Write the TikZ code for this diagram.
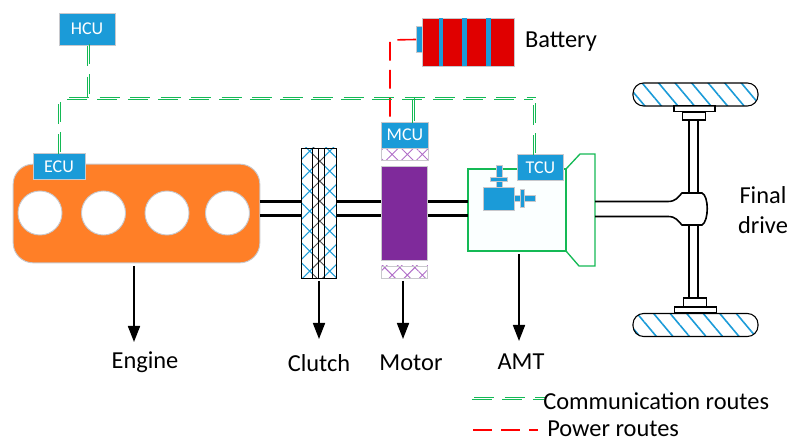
\documentclass[tikz,border=0pt]{standalone}
\usepackage{fontspec}
\setmainfont{Carlito}
\usetikzlibrary{arrows.meta,patterns.meta}
\definecolor{unitblue}{RGB}{27,155,216}
\definecolor{rimgray}{RGB}{200,200,204}
\definecolor{engorange}{RGB}{255,127,39}
\definecolor{motorpurple}{RGB}{127,42,155}
\definecolor{hatchpurple}{RGB}{176,110,200}
\definecolor{cellred}{RGB}{224,0,0}
\definecolor{routegreen}{RGB}{20,185,85}
\definecolor{amtpale}{RGB}{251,255,255}
\tikzset{
  unitbox/.style={draw=rimgray,fill=unitblue,line width=0.7pt,inner sep=0pt,outer sep=0pt,text=white,font=\fontsize{13.5}{14}\selectfont},
  partbox/.style={draw=rimgray,line width=0.7pt,inner sep=0pt,outer sep=0pt},
  cylbox/.style={partbox,fill=white,circle,minimum size=33pt},
  stripebox/.style={inner sep=0pt,outer sep=0pt,fill=unitblue,minimum width=3.5pt,minimum height=35.5pt},
  bearingbox/.style={partbox,minimum width=35pt,minimum height=9pt,pattern={Hatch[angle=45,distance=8pt,line width=0.7pt]},pattern color=hatchpurple},
  hubbox/.style={draw=black,line width=0.8pt,inner sep=0pt,outer sep=0pt},
  wheelbox/.style={hubbox,rounded corners=8pt,minimum width=93.75pt,minimum height=17.25pt,pattern={Lines[angle=-50,distance=9.5pt,line width=1.2pt]},pattern color=unitblue},
  clutchbox/.style={draw=black,line width=0.7pt,inner sep=0pt,outer sep=0pt,minimum height=97.5pt},
  comline/.style={draw=routegreen,line width=1pt,dash pattern=on 15pt off 7.875pt},
  comlinea/.style={comline,transform canvas={shift={(0.8pt,0.8pt)}}},
  comlineb/.style={comline,transform canvas={shift={(-0.8pt,-0.8pt)}}},
  powroute/.style={draw=red,line width=1.2pt,dash pattern=on 14pt off 7pt},
  shaft/.style={draw=black,line width=1.8pt},
  axle/.style={draw=black,line width=1.2pt},
  labelarrow/.style={draw=black,line width=1.3pt,-{Triangle[length=12pt,width=9pt]}},
  caption/.style={inner sep=0pt,font=\fontsize{18.3}{19}\selectfont}
}
\begin{document}
\begin{tikzpicture}[x=0.75pt,y=0.75pt,yscale=-1,xscale=1]
    \useasboundingbox (0,0) rectangle (789,441);
    \coordinate (shafttop) at (0,201.5);
    \coordinate (shaftlow) at (0,215.5);

    %Engine
    \node [partbox,fill=engorange,rounded corners=15pt,minimum width=185pt,minimum height=74pt] (engine) at (136.5,213.5) {};
    \node [cylbox] (cyla) at (40,213) {};
    \node [cylbox] (cylb) at (103.5,213) {};
    \node [cylbox] (cylc) at (167,213) {};
    \node [cylbox] (cyld) at (227.5,213) {};

    %Clutch
    \node [clutchbox,minimum width=26.25pt,pattern={Hatch[angle=45,distance=10.6pt,line width=0.8pt]},pattern color=unitblue] (clutch) at (318.5,213) {};
    \node [clutchbox,minimum width=8.5pt,fill=white] (plateback) at (318.5,213) {};
    \node [clutchbox,minimum width=8.5pt,pattern={Hatch[angle=45,distance=10.6pt,line width=0.7pt]},pattern color=black!70] (plate) at (318.5,213) {};
    \draw [draw=black,line width=0.7pt] (plate.north) -- (plate.south) ;

    %Motor
    \node [partbox,fill=motorpurple,minimum width=35pt,minimum height=70pt] (motor) at (404.5,213.5) {};
    \node [bearingbox] (bearingtop) at (405,154) {};
    \node [bearingbox] (bearingbot) at (404.5,272) {};

    %AMT
    \draw [routegreen,line width=1pt] (566,169) -- (580,154) -- (595,154) -- (595,266) -- (579,266) -- (566,251) ;
    \node [draw=routegreen,line width=1pt,fill=amtpale,inner sep=0pt,outer sep=0pt,minimum width=73.5pt,minimum height=61.5pt] (amt) at (517,210) {};
    \node [partbox,fill=unitblue,minimum width=4.5pt,minimum height=16.5pt] (gearstem) at (499,176) {};
    \node [partbox,fill=unitblue,minimum width=12.75pt,minimum height=3pt] (gearbar) at (498.5,179) {};
    \node [partbox,fill=unitblue,minimum width=23.25pt,minimum height=17.25pt] (gearbox) at (498.5,198.5) {};
    \node [partbox,fill=unitblue,minimum width=15.75pt,minimum height=4.5pt] (gearaxle) at (524.5,198) {};
    \node [partbox,fill=unitblue,minimum width=3pt,minimum height=13.5pt] (gearring) at (522,198) {};

    %Shafts
    \draw [shaft] (engine.east |- shafttop) -- (clutch.west |- shafttop) ;
    \draw [shaft] (engine.east |- shaftlow) -- (clutch.west |- shaftlow) ;
    \draw [shaft] (clutch.east |- shafttop) -- (motor.west |- shafttop) ;
    \draw [shaft] (clutch.east |- shaftlow) -- (motor.west |- shaftlow) ;
    \draw [shaft] (motor.east |- shafttop) -- (amt.west |- shafttop) ;
    \draw [shaft] (motor.east |- shaftlow) -- (amt.west |- shaftlow) ;

    %Final drive
    \node [wheelbox] (wheeltop) at (695.5,94.5) {};
    \node [wheelbox] (wheelbot) at (695.5,325) {};
    \node [hubbox,minimum width=30.75pt,minimum height=4pt] (platetop) at (694.5,108.5) {};
    \node [hubbox,minimum width=17.25pt,minimum height=6pt] (flangetop) at (694,116) {};
    \node [hubbox,minimum width=17.25pt,minimum height=6.75pt] (flangebot) at (695,302.5) {};
    \node [hubbox,minimum width=31pt,minimum height=4.5pt] (platebot) at (695.5,310) {};
    \draw [axle] (595,201.5) -- (668,201.5) .. controls (676,201.5) and (678,197) .. (682,193) -- (702,193) .. controls (709,196) and (709,221) .. (702,225) -- (682,225) .. controls (678,221) and (676,216.5) .. (668,216.5) -- (595,216.5) ;
    \draw [axle] (flangetop.south -| 689,0) -- (689,193) ;
    \draw [axle] (flangetop.south -| 698,0) -- (698,193) ;
    \draw [axle] (689,225) -- (flangebot.north -| 689,0) ;
    \draw [axle] (698,225) -- (flangebot.north -| 698,0) ;

    %Battery
    \node [partbox,fill=unitblue,minimum width=4.5pt,minimum height=20pt] (terminal) at (419,39.5) {};
    \node [partbox,fill=cellred,minimum width=69pt,minimum height=36pt] (battery) at (468,42) {};
    \node [stripebox] (stripea) at (441,42) {};
    \node [stripebox] (stripeb) at (464.5,42) {};
    \node [stripebox] (stripec) at (488.5,42) {};

    %Control units
    \node [unitbox,minimum width=42pt,minimum height=24pt] (hcu) at (87,29) {HCU};
    \node [unitbox,minimum width=39pt,minimum height=20pt] (ecu) at (59,166.5) {ECU};
    \node [unitbox,minimum width=35pt,minimum height=19.5pt] (mcu) at (405,135) {MCU};
    \node [unitbox,minimum width=34pt,minimum height=20pt] (tcu) at (540.5,167.5) {TCU};

    %Routes
    \coordinate (busleft) at (59.5,98.5);
    \coordinate (busstart) at (68,98.5);
    \coordinate (busjoin) at (88.5,98.5);
    \coordinate (busmcu) at (413.5,98.5);
    \coordinate (busright) at (534.5,98.5);
    \coordinate (powcorner) at (390,40);
    \draw [powroute] (terminal.west) -- (powcorner) -- (powcorner |- mcu.north) ;
    \draw [comlinea] (busjoin |- hcu.south) -- (busjoin) ;
    \draw [comlineb] (busjoin |- hcu.south) -- (busjoin) ;
    \draw [comlinea] (busleft |- ecu.north) -- (busleft) ;
    \draw [comlineb] (busleft |- ecu.north) -- (busleft) ;
    \draw [comlinea] (busstart) -- (busright) ;
    \draw [comlineb] (busstart) -- (busright) ;
    \draw [comlinea] (busright |- tcu.north) -- (busright) ;
    \draw [comlineb] (busright |- tcu.north) -- (busright) ;
    \draw [comlinea,solid] (busmcu) -- (busmcu |- mcu.north) ;
    \draw [comlineb,solid] (busmcu) -- (busmcu |- mcu.north) ;

    %Label arrows
    \draw [labelarrow] (134,266) -- (134,342) ;
    \draw [labelarrow] (319,281) -- (319,339) ;
    \draw [labelarrow] (403,281) -- (403,339) ;
    \draw [labelarrow] (519,254) -- (519,341) ;

    % Text Node
    \node [caption] (lblbattery) at (561,42) {Battery};
    \node [caption] (lblengine) at (145,362) {Engine};
    \node [caption] (lblclutch) at (319,363) {Clutch};
    \node [caption] (lblmotor) at (411,363) {Motor};
    \node [caption] (lblamt) at (521,362) {AMT};
    \node [caption,align=center,font=\fontsize{18.3}{22}\selectfont] (lbldrive) at (763,210) {Final\\drive};

    %Legend
    \coordinate (legcoma) at (473,398.5);
    \coordinate (legcomb) at (545,398.5);
    \coordinate (legpowa) at (473,430);
    \coordinate (legpowb) at (538,430);
    \draw [comlinea] (legcoma) -- (legcomb) ;
    \draw [comlineb] (legcoma) -- (legcomb) ;
    \draw [powroute] (legpowa) -- (legpowb) ;
    \node [caption,anchor=west] (lblcom) at (543,401) {Communication routes};
    \node [caption,anchor=west] (lblpow) at (547,429) {Power routes};
\end{tikzpicture}
\end{document}
